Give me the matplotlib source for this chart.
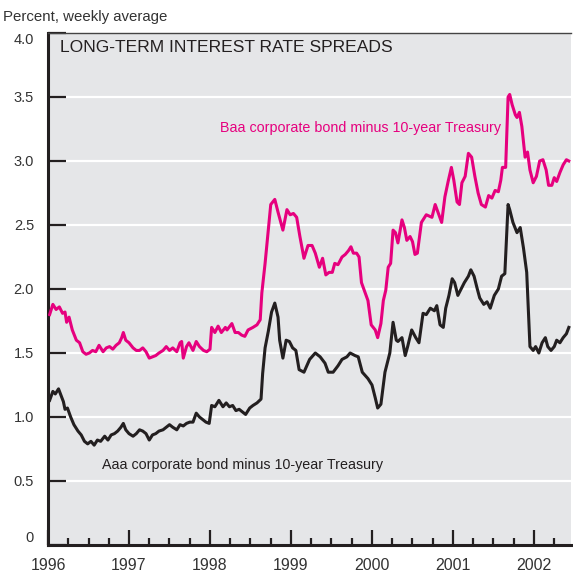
#!/usr/bin/env python3
"""Long-term interest rate spreads: Baa and Aaa corporate minus 10-year Treasury."""

import matplotlib
matplotlib.use("Agg")
import matplotlib.pyplot as plt
import numpy as np

# decimal-year dates and spreads (percent)
baa_dates = [
    1996.02, 1996.06, 1996.10, 1996.14, 1996.18, 1996.21, 1996.23, 1996.26, 1996.30, 1996.35,
    1996.39, 1996.43, 1996.47, 1996.51, 1996.55, 1996.59, 1996.63, 1996.68, 1996.72, 1996.76,
    1996.80, 1996.84, 1996.88, 1996.91, 1996.93, 1996.96, 1997.00, 1997.05, 1997.09, 1997.13,
    1997.17, 1997.21, 1997.25, 1997.29, 1997.33, 1997.37, 1997.42, 1997.46, 1997.50, 1997.54,
    1997.59, 1997.63, 1997.65, 1997.67, 1997.71, 1997.74, 1997.79, 1997.83, 1997.87, 1997.92,
    1997.96, 1998.00, 1998.02, 1998.06, 1998.10, 1998.14, 1998.19, 1998.21, 1998.27, 1998.31,
    1998.35, 1998.39, 1998.43, 1998.47, 1998.53, 1998.58, 1998.62, 1998.64, 1998.68, 1998.72,
    1998.75, 1998.80, 1998.84, 1998.90, 1998.95, 1998.99, 1999.03, 1999.07, 1999.11, 1999.16,
    1999.21, 1999.26, 1999.30, 1999.35, 1999.39, 1999.43, 1999.47, 1999.51, 1999.54, 1999.58,
    1999.63, 1999.67, 1999.71, 1999.74, 1999.77, 1999.81, 1999.84, 1999.87, 1999.91, 1999.95,
    1999.99, 2000.04, 2000.07, 2000.11, 2000.14, 2000.17, 2000.20, 2000.23, 2000.26, 2000.29,
    2000.32, 2000.37, 2000.40, 2000.43, 2000.47, 2000.50, 2000.53, 2000.56, 2000.61, 2000.67,
    2000.74, 2000.78, 2000.82, 2000.86, 2000.90, 2000.94, 2000.98, 2001.01, 2001.05, 2001.08,
    2001.11, 2001.15, 2001.19, 2001.23, 2001.27, 2001.31, 2001.35, 2001.40, 2001.44, 2001.48,
    2001.52, 2001.56, 2001.59, 2001.61, 2001.65, 2001.68, 2001.70, 2001.73, 2001.77, 2001.79,
    2001.82, 2001.85, 2001.89, 2001.92, 2001.95, 2001.99, 2002.03, 2002.07, 2002.11, 2002.15,
    2002.18, 2002.22, 2002.25, 2002.28, 2002.32, 2002.36, 2002.40, 2002.43,
]
baa_spread = [
    1.80, 1.88, 1.84, 1.86, 1.81, 1.82, 1.74, 1.78, 1.68, 1.60,
    1.58, 1.51, 1.49, 1.50, 1.52, 1.51, 1.56, 1.51, 1.54, 1.55,
    1.53, 1.56, 1.58, 1.62, 1.66, 1.60, 1.58, 1.54, 1.52, 1.52,
    1.54, 1.51, 1.46, 1.47, 1.48, 1.50, 1.52, 1.55, 1.52, 1.54,
    1.51, 1.58, 1.59, 1.46, 1.55, 1.58, 1.52, 1.59, 1.55, 1.52,
    1.51, 1.53, 1.70, 1.66, 1.71, 1.66, 1.70, 1.68, 1.73, 1.66,
    1.66, 1.64, 1.63, 1.68, 1.70, 1.72, 1.76, 1.97, 2.20, 2.46,
    2.66, 2.70, 2.60, 2.46, 2.62, 2.58, 2.59, 2.56, 2.41, 2.24,
    2.34, 2.34, 2.28, 2.17, 2.24, 2.11, 2.13, 2.13, 2.20, 2.19,
    2.25, 2.27, 2.30, 2.33, 2.28, 2.28, 2.25, 2.05, 1.98, 1.91,
    1.72, 1.68, 1.62, 1.73, 1.91, 1.99, 2.17, 2.20, 2.46, 2.44,
    2.36, 2.54, 2.48, 2.38, 2.41, 2.37, 2.27, 2.28, 2.52, 2.58,
    2.56, 2.66, 2.59, 2.52, 2.72, 2.84, 2.95, 2.85, 2.68, 2.66,
    2.83, 2.88, 3.06, 3.03, 2.88, 2.75, 2.66, 2.64, 2.73, 2.71,
    2.77, 2.76, 2.85, 2.95, 2.95, 3.50, 3.52, 3.44, 3.36, 3.34,
    3.38, 3.27, 3.03, 3.07, 2.93, 2.83, 2.88, 3.00, 3.01, 2.93,
    2.81, 2.81, 2.87, 2.84, 2.91, 2.97, 3.01, 3.00,
]

aaa_dates = [
    1996.02, 1996.06, 1996.09, 1996.13, 1996.16, 1996.19, 1996.21, 1996.24, 1996.28, 1996.32,
    1996.37, 1996.41, 1996.45, 1996.49, 1996.53, 1996.57, 1996.61, 1996.65, 1996.70, 1996.74,
    1996.78, 1996.82, 1996.86, 1996.90, 1996.93, 1996.96, 1997.00, 1997.05, 1997.09, 1997.13,
    1997.17, 1997.21, 1997.25, 1997.29, 1997.33, 1997.37, 1997.42, 1997.46, 1997.50, 1997.54,
    1997.59, 1997.63, 1997.67, 1997.71, 1997.75, 1997.79, 1997.83, 1997.87, 1997.91, 1997.95,
    1997.99, 1998.02, 1998.06, 1998.11, 1998.16, 1998.20, 1998.24, 1998.28, 1998.32, 1998.36,
    1998.40, 1998.44, 1998.49, 1998.53, 1998.58, 1998.63, 1998.65, 1998.68, 1998.72, 1998.76,
    1998.80, 1998.84, 1998.86, 1998.90, 1998.94, 1998.98, 1999.02, 1999.06, 1999.10, 1999.16,
    1999.23, 1999.30, 1999.36, 1999.42, 1999.46, 1999.52, 1999.58, 1999.63, 1999.69, 1999.73,
    1999.79, 1999.83, 1999.88, 1999.95, 2000.00, 2000.04, 2000.07, 2000.11, 2000.16, 2000.22,
    2000.26, 2000.30, 2000.32, 2000.37, 2000.41, 2000.44, 2000.49, 2000.54, 2000.58, 2000.63,
    2000.67, 2000.72, 2000.77, 2000.80, 2000.84, 2000.88, 2000.91, 2000.95, 2000.99, 2001.02,
    2001.06, 2001.10, 2001.14, 2001.19, 2001.22, 2001.26, 2001.30, 2001.33, 2001.38, 2001.42,
    2001.46, 2001.51, 2001.56, 2001.60, 2001.64, 2001.68, 2001.70, 2001.74, 2001.79, 2001.83,
    2001.87, 2001.91, 2001.95, 2001.99, 2002.02, 2002.06, 2002.10, 2002.14, 2002.17, 2002.21,
    2002.25, 2002.28, 2002.32, 2002.36, 2002.40, 2002.43,
]
aaa_spread = [
    1.13, 1.20, 1.18, 1.22, 1.17, 1.12, 1.06, 1.07, 1.00, 0.94,
    0.89, 0.86, 0.81, 0.79, 0.81, 0.78, 0.82, 0.81, 0.85, 0.82,
    0.86, 0.87, 0.89, 0.92, 0.95, 0.90, 0.87, 0.85, 0.87, 0.90,
    0.89, 0.87, 0.82, 0.86, 0.87, 0.89, 0.90, 0.92, 0.94, 0.92,
    0.90, 0.94, 0.93, 0.95, 0.96, 0.96, 1.03, 1.00, 0.98, 0.96,
    0.95, 1.09, 1.08, 1.13, 1.08, 1.11, 1.08, 1.09, 1.05, 1.06,
    1.04, 1.02, 1.07, 1.09, 1.11, 1.14, 1.34, 1.54, 1.67, 1.82,
    1.89, 1.78, 1.60, 1.46, 1.60, 1.59, 1.54, 1.52, 1.37, 1.35,
    1.45, 1.50, 1.47, 1.42, 1.35, 1.35, 1.40, 1.45, 1.47, 1.50,
    1.48, 1.47, 1.35, 1.30, 1.25, 1.15, 1.07, 1.10, 1.35, 1.50,
    1.74, 1.60, 1.59, 1.62, 1.48, 1.55, 1.68, 1.62, 1.58, 1.81,
    1.80, 1.85, 1.83, 1.87, 1.72, 1.70, 1.85, 1.95, 2.08, 2.05,
    1.95, 2.00, 2.05, 2.10, 2.15, 2.10, 2.00, 1.93, 1.88, 1.90,
    1.85, 1.95, 2.00, 2.10, 2.12, 2.66, 2.62, 2.52, 2.44, 2.48,
    2.32, 2.13, 1.55, 1.52, 1.55, 1.50, 1.58, 1.62, 1.55, 1.52,
    1.55, 1.60, 1.58, 1.62, 1.65, 1.70,
]

year_ticks = [1996, 1997, 1998, 1999, 2000, 2001, 2002]
y_ticks = [0, 0.5, 1.0, 1.5, 2.0, 2.5, 3.0, 3.5, 4.0]
y_labels = ["0", "0.5", "1.0", "1.5", "2.0", "2.5", "3.0", "3.5", "4.0"]

PINK = "#e6007e"
INK = "#231f20"

# narrow font if present, otherwise plain Liberation Sans
plt.rcParams["font.family"] = ["Liberation Sans Narrow", "Liberation Sans", "DejaVu Sans"]

fig = plt.figure(figsize=(5.73, 5.76), dpi=100)
ax = fig.add_axes([48 / 573, 31 / 576, 523 / 573, 512 / 576])
ax.set_facecolor("#e5e6e8")

for v in y_ticks[1:-1]:
    ax.axhline(v, color="white", lw=1.6, zorder=1)

ax.plot(baa_dates, baa_spread, color=PINK, lw=2.2, zorder=3, solid_joinstyle="round")
ax.plot(aaa_dates, aaa_spread, color=INK, lw=2.2, zorder=3, solid_joinstyle="round")

ax.set_xlim(1996, 1996 + 523 / 81)
ax.set_ylim(0, 4)

ax.set_xticks(year_ticks)
ax.set_xticklabels([str(y) for y in year_ticks])
ax.set_xticks(np.arange(1996, 2002.5, 0.25), minor=True)
ax.set_yticks(y_ticks)
ax.set_yticklabels(y_labels)

ax.tick_params(axis="x", which="major", direction="in", length=10.8, width=1.6,
               color=INK, labelsize=11.5, pad=9)
ax.tick_params(axis="x", which="minor", direction="in", length=5, width=1.6, color=INK)
ax.tick_params(axis="y", direction="in", length=13, width=1.6, color=INK,
               labelsize=10.5, pad=10)
for lab in ax.get_xticklabels() + ax.get_yticklabels():
    lab.set_color("#333333")

ylabs = ax.get_yticklabels()
ylabs[0].set_va("bottom")
ylabs[-1].set_va("top")

for side in ("left", "bottom"):
    ax.spines[side].set_color(INK)
    ax.spines[side].set_linewidth(2.2)
ax.spines["top"].set_color("#444444")
ax.spines["top"].set_linewidth(1.0)
ax.spines["right"].set_visible(False)

ax.text(12 / 523, 497 / 512, "LONG-TERM INTEREST RATE SPREADS", transform=ax.transAxes,
        fontsize=12.6, family=["Liberation Sans", "DejaVu Sans"], color=INK,
        ha="left", va="center")
ax.text(1998.12, 3.26, "Baa corporate bond minus 10-year Treasury", color=PINK,
        fontsize=10.3, ha="left", va="center")
ax.text(1996.67, 0.625, "Aaa corporate bond minus 10-year Treasury", color=INK,
        fontsize=10.3, ha="left", va="center")

fig.text(3 / 573, 1 - 17 / 576, "Percent, weekly average", fontsize=10.8, color="#333333",
         ha="left", va="center")

fig.savefig("out.png", dpi=100, facecolor="white")
